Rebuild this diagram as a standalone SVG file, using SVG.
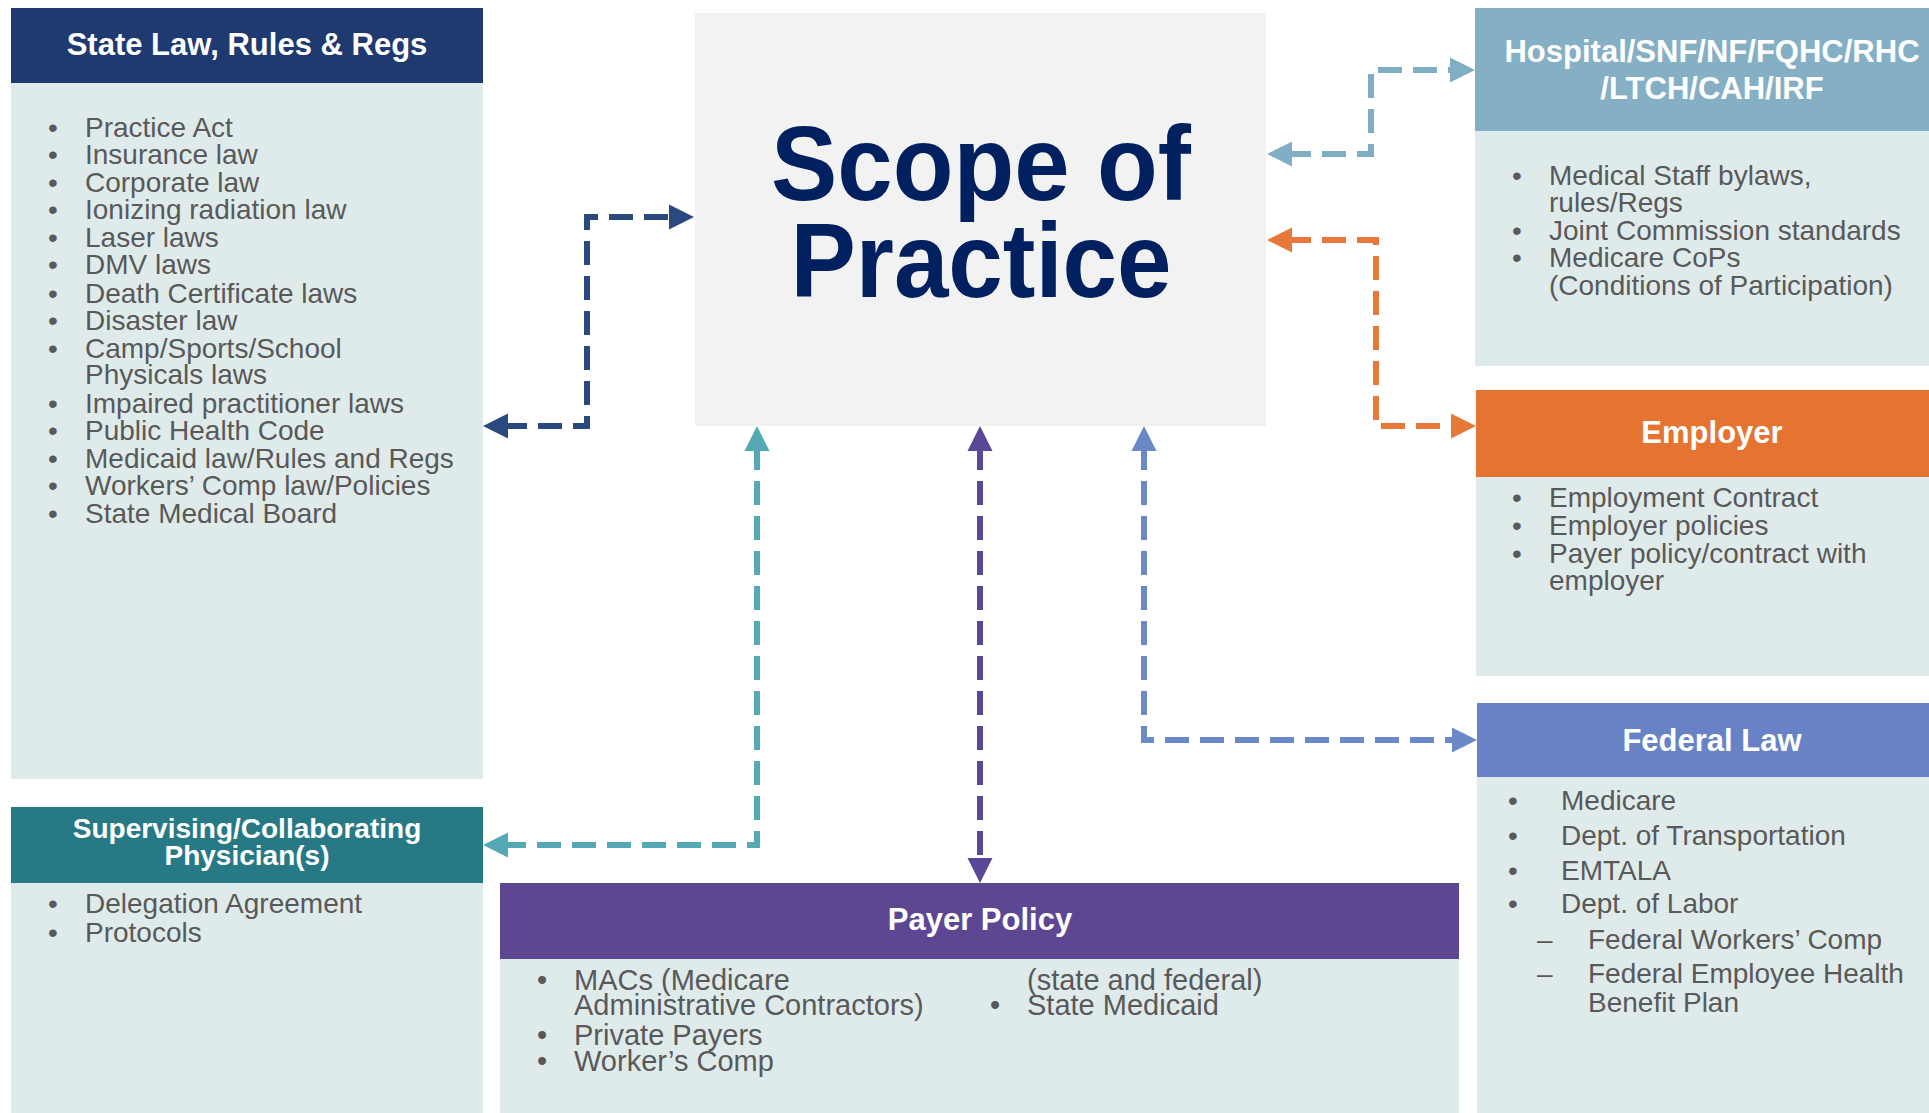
<svg xmlns="http://www.w3.org/2000/svg" width="1929" height="1113" viewBox="0 0 1929 1113">
<defs>
<style>
.body{fill:#DFEBEB}
.hd{font-family:"Liberation Sans",Arial,sans-serif;font-weight:bold;fill:#FFFFFF;text-anchor:middle}
.it{font-family:"Liberation Sans",Arial,sans-serif;font-size:28px;fill:#595959}
.pt{font-family:"Liberation Sans",Arial,sans-serif;font-size:29px;fill:#595959}
.scope{font-family:"Liberation Sans",Arial,sans-serif;font-weight:bold;font-size:106px;fill:#002060;text-anchor:middle}
.cn{fill:none;stroke-width:6;stroke-dasharray:24 11}
</style>
<marker id="mNavy" markerUnits="userSpaceOnUse" markerWidth="26" markerHeight="26" refX="5" refY="12.5" orient="auto-start-reverse" viewBox="0 0 26 25"><path d="M0,0 L25,12.5 L0,25 z" fill="#2A4A7F"/></marker>
<marker id="mLight" markerUnits="userSpaceOnUse" markerWidth="26" markerHeight="26" refX="5" refY="12.5" orient="auto-start-reverse" viewBox="0 0 26 25"><path d="M0,0 L25,12.5 L0,25 z" fill="#80AFC5"/></marker>
<marker id="mOrange" markerUnits="userSpaceOnUse" markerWidth="26" markerHeight="26" refX="5" refY="12.5" orient="auto-start-reverse" viewBox="0 0 26 25"><path d="M0,0 L25,12.5 L0,25 z" fill="#E8773A"/></marker>
<marker id="mTeal" markerUnits="userSpaceOnUse" markerWidth="26" markerHeight="26" refX="5" refY="12.5" orient="auto-start-reverse" viewBox="0 0 26 25"><path d="M0,0 L25,12.5 L0,25 z" fill="#54A9B4"/></marker>
<marker id="mPurple" markerUnits="userSpaceOnUse" markerWidth="26" markerHeight="26" refX="5" refY="12.5" orient="auto-start-reverse" viewBox="0 0 26 25"><path d="M0,0 L25,12.5 L0,25 z" fill="#5B4797"/></marker>
<marker id="mBlue" markerUnits="userSpaceOnUse" markerWidth="26" markerHeight="26" refX="5" refY="12.5" orient="auto-start-reverse" viewBox="0 0 26 25"><path d="M0,0 L25,12.5 L0,25 z" fill="#6B88C7"/></marker>
</defs>
<rect width="1929" height="1113" fill="#FFFFFF"/>

<g id="scope">
<rect x="695" y="13" width="571" height="413" fill="#F2F2F2"/>
<text class="scope" x="981" y="200" textLength="420" lengthAdjust="spacingAndGlyphs">Scope of</text>
<text class="scope" x="981" y="297" textLength="381" lengthAdjust="spacingAndGlyphs">Practice</text>
</g>

<g id="state">
<rect x="11" y="8" width="472" height="75" fill="#1E3A70"/>
<rect class="body" x="11" y="83" width="472" height="696"/>
<text class="hd" x="247" y="55" font-size="31">State Law, Rules &amp; Regs</text>
<g class="it">
<text x="48" y="137">•</text><text x="85" y="137">Practice Act</text>
<text x="48" y="164">•</text><text x="85" y="164">Insurance law</text>
<text x="48" y="192">•</text><text x="85" y="192">Corporate law</text>
<text x="48" y="219">•</text><text x="85" y="219">Ionizing radiation law</text>
<text x="48" y="247">•</text><text x="85" y="247">Laser laws</text>
<text x="48" y="274">•</text><text x="85" y="274">DMV laws</text>
<text x="48" y="303">•</text><text x="85" y="303">Death Certificate laws</text>
<text x="48" y="330">•</text><text x="85" y="330">Disaster law</text>
<text x="48" y="358">•</text><text x="85" y="358">Camp/Sports/School</text>
<text x="85" y="384">Physicals laws</text>
<text x="48" y="413">•</text><text x="85" y="413">Impaired practitioner laws</text>
<text x="48" y="440">•</text><text x="85" y="440">Public Health Code</text>
<text x="48" y="468">•</text><text x="85" y="468">Medicaid law/Rules and Regs</text>
<text x="48" y="495">•</text><text x="85" y="495">Workers’ Comp law/Policies</text>
<text x="48" y="523">•</text><text x="85" y="523">State Medical Board</text>
</g>
</g>

<g id="supervising">
<rect x="11" y="807" width="472" height="76" fill="#277A85"/>
<rect class="body" x="11" y="883" width="472" height="230"/>
<text class="hd" x="247" y="838" font-size="28">Supervising/Collaborating</text>
<text class="hd" x="247" y="865" font-size="28">Physician(s)</text>
<g class="it">
<text x="48" y="913">•</text><text x="85" y="913">Delegation Agreement</text>
<text x="48" y="942">•</text><text x="85" y="942">Protocols</text>
</g>
</g>

<g id="payer">
<rect x="500" y="883" width="959" height="76" fill="#5D4793"/>
<rect class="body" x="500" y="959" width="959" height="154"/>
<text class="hd" x="980" y="930" font-size="31">Payer Policy</text>
<g class="pt">
<text x="537" y="990">•</text><text x="574" y="990">MACs (Medicare</text>
<text x="574" y="1015">Administrative Contractors)</text>
<text x="537" y="1045">•</text><text x="574" y="1045">Private Payers</text>
<text x="537" y="1071">•</text><text x="574" y="1071">Worker’s Comp</text>
<text x="1027" y="990">(state and federal)</text>
<text x="990" y="1015">•</text><text x="1027" y="1015">State Medicaid</text>
</g>
</g>

<g id="hospital">
<rect x="1475" y="8" width="454" height="123" fill="#85AFC5"/>
<rect class="body" x="1475" y="131" width="454" height="235"/>
<text class="hd" x="1712" y="62" font-size="31">Hospital/SNF/NF/FQHC/RHC</text>
<text class="hd" x="1712" y="99" font-size="31">/LTCH/CAH/IRF</text>
<g class="it">
<text x="1512" y="185">•</text><text x="1549" y="185">Medical Staff bylaws,</text>
<text x="1549" y="212">rules/Regs</text>
<text x="1512" y="240">•</text><text x="1549" y="240">Joint Commission standards</text>
<text x="1512" y="267">•</text><text x="1549" y="267">Medicare CoPs</text>
<text x="1549" y="295">(Conditions of Participation)</text>
</g>
</g>

<g id="employer">
<rect x="1476" y="390" width="453" height="87" fill="#E57432"/>
<rect class="body" x="1476" y="477" width="453" height="199"/>
<text class="hd" x="1712" y="443" font-size="31">Employer</text>
<g class="it">
<text x="1512" y="507">•</text><text x="1549" y="507">Employment Contract</text>
<text x="1512" y="535">•</text><text x="1549" y="535">Employer policies</text>
<text x="1512" y="563">•</text><text x="1549" y="563">Payer policy/contract with</text>
<text x="1549" y="590">employer</text>
</g>
</g>

<g id="federal">
<rect x="1477" y="703" width="452" height="74" fill="#6783C5"/>
<rect class="body" x="1477" y="777" width="452" height="336"/>
<text class="hd" x="1712" y="751" font-size="31">Federal Law</text>
<g class="it">
<text x="1508" y="810">•</text><text x="1561" y="810">Medicare</text>
<text x="1508" y="845">•</text><text x="1561" y="845">Dept. of Transportation</text>
<text x="1508" y="880">•</text><text x="1561" y="880">EMTALA</text>
<text x="1508" y="913">•</text><text x="1561" y="913">Dept. of Labor</text>
<text x="1537" y="949">–</text><text x="1588" y="949">Federal Workers’ Comp</text>
<text x="1537" y="983">–</text><text x="1588" y="983">Federal Employee Health</text>
<text x="1588" y="1012">Benefit Plan</text>
</g>
</g>

<g id="connectors">
<path class="cn" d="M503,426 H587 V217 H674" stroke="#2A4A7F" marker-start="url(#mNavy)" marker-end="url(#mNavy)"/>
<path class="cn" d="M1287,154 H1371 V70 H1455" stroke="#80AFC5" marker-start="url(#mLight)" marker-end="url(#mLight)"/>
<path class="cn" d="M1287,240 H1376 V426 H1456" stroke="#E8773A" marker-start="url(#mOrange)" marker-end="url(#mOrange)"/>
<path class="cn" d="M757,446 V845 H503" stroke="#54A9B4" marker-start="url(#mTeal)" marker-end="url(#mTeal)"/>
<path class="cn" d="M980,446 V863" stroke="#5B4797" marker-start="url(#mPurple)" marker-end="url(#mPurple)"/>
<path class="cn" d="M1144,446 V740 H1457" stroke="#6B88C7" marker-start="url(#mBlue)" marker-end="url(#mBlue)"/>
</g>
</svg>
